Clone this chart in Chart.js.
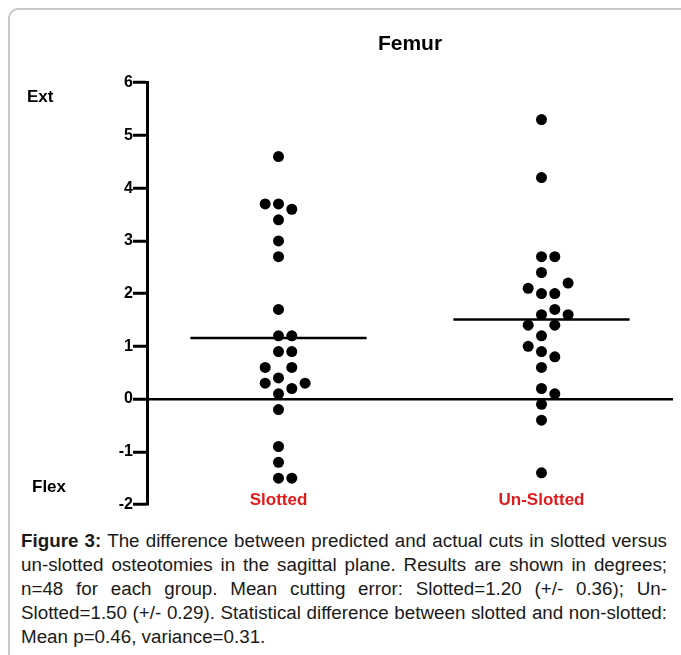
<!DOCTYPE html>
<html><head><meta charset="utf-8">
<script src="https://cdn.jsdelivr.net/npm/chart.js@4/dist/chart.umd.min.js"></script>
<style>
html,body{margin:0;padding:0;background:#fff;}
body{width:681px;height:655px;overflow:hidden;position:relative;font-family:"Liberation Sans",Arial,sans-serif;}
#frame{position:absolute;left:8px;top:8px;width:720px;height:720px;border:2px solid #c8c8c8;border-radius:10px;box-sizing:border-box;}
#wrap{position:absolute;left:0;top:0;width:681px;height:525px;}
#caption{position:absolute;left:21px;top:529px;width:646px;font-size:18.8px;line-height:24px;text-align:justify;color:#1a1a1a;}
</style></head>
<body>
<div id="frame"></div>
<div id="wrap"><canvas id="c" width="681" height="525"></canvas></div>
<div id="caption"><b>Figure 3:</b> The difference between predicted and actual cuts in slotted versus un-slotted osteotomies in the sagittal plane. Results are shown in degrees; n=48 for each group. Mean cutting error: Slotted=1.20 (+/- 0.36); Un-Slotted=1.50 (+/- 0.29). Statistical difference between slotted and non-slotted: Mean p=0.46, variance=0.31.</div>
<script>
const chartTitle = 'Femur';
const categories = ['Slotted', 'Un-Slotted'];
const slottedValues = [4.6, 3.7, 3.7, 3.6, 3.4, 3.0, 2.7, 1.7, 1.2, 1.2, 0.9, 0.9, 0.6, 0.6, 0.4, 0.3, 0.3, 0.2, 0.1, -0.2, -0.9, -1.2, -1.5, -1.5];
const unSlottedValues = [5.3, 4.2, 2.7, 2.7, 2.4, 2.2, 2.1, 2.0, 2.0, 1.7, 1.6, 1.6, 1.4, 1.4, 1.2, 1.0, 0.9, 0.8, 0.6, 0.2, 0.1, -0.1, -0.4, -1.4];
const groupMeans = [1.16, 1.51];
const yTickValues = [-2, -1, 0, 1, 2, 3, 4, 5, 6];
const sideLabels = ['Ext', 'Flex'];

const FONT = '"Liberation Sans", Arial, sans-serif';
const LANE_STEP = 0.0506;   // horizontal spacing between swarm lanes (x units)
const DOT_GAP = 0.25;       // minimum vertical separation inside a lane (y units)
const MEAN_HALF = 0.335;    // half width of the mean bar (x units)

function swarm(values, center) {
  const order = values.map((v, i) => i).sort((a, b) => values[a] - values[b]);
  const lanes = {};
  const out = [];
  const candidates = [0, 1, -1, 2, -2, 3, -3];
  for (const i of order) {
    const v = values[i];
    for (const k of candidates) {
      const placed = lanes[k] || (lanes[k] = []);
      if (placed.every(p => Math.abs(p - v) > DOT_GAP)) {
        placed.push(v);
        out.push({x: center + k * LANE_STEP, y: v});
        break;
      }
    }
  }
  return out;
}

const groups = [slottedValues, unSlottedValues];
const datasets = [];
groups.forEach((vals, g) => {
  const c = g + 1;
  datasets.push({
    type: 'line', data: [{x: c - MEAN_HALF, y: groupMeans[g]}, {x: c + MEAN_HALF, y: groupMeans[g]}],
    borderColor: '#000', borderWidth: 2.5, pointRadius: 0, fill: false
  });
  datasets.push({
    type: 'scatter', data: swarm(vals, c),
    backgroundColor: '#000', borderColor: '#000', borderWidth: 0, pointRadius: 5.5, pointHoverRadius: 5.5
  });
});

const labelPlugin = {
  id: 'extraLabels',
  afterDraw(chart) {
    const ctx = chart.ctx;
    const xs = chart.scales.x;
    ctx.save();
    ctx.textBaseline = 'middle';
    ctx.font = 'bold 17px ' + FONT;
    ctx.fillStyle = '#000';
    ctx.textAlign = 'left';
    ctx.fillText(sideLabels[0], 27, 97);
    ctx.fillText(sideLabels[1], 32, 487);
    ctx.fillStyle = '#e01b1b';
    ctx.textAlign = 'center';
    categories.forEach((c, i) => ctx.fillText(c, xs.getPixelForValue(i + 1), 500));
    ctx.restore();
  }
};

new Chart(document.getElementById('c'), {
  type: 'scatter',
  data: {datasets},
  plugins: [labelPlugin],
  options: {
    responsive: false,
    animation: false,
    clip: false,
    layout: {padding: {top: 20, left: 107, right: 8, bottom: 0}},
    plugins: {
      legend: {display: false},
      tooltip: {enabled: false},
      title: {
        display: true, text: chartTitle, fullSize: false, color: '#000',
        font: {family: FONT, size: 21, weight: 'bold'},
        padding: {top: 12, bottom: 25.5}
      }
    },
    scales: {
      x: {
        type: 'linear', min: 0.5, max: 2.5,
        afterFit: s => { s.height = 20.5; },
        grid: {display: false, drawTicks: false},
        border: {display: false},
        ticks: {display: false}
      },
      y: {
        min: -2, max: 6,
        afterBuildTicks: s => { s.ticks = yTickValues.map(v => ({value: v})); },
        afterFit: s => { s.width = 40; },
        grid: {
          drawOnChartArea: true,
          color: ctx => (ctx.tick && ctx.tick.value === 0) ? '#000' : 'rgba(0,0,0,0)',
          lineWidth: 2.5, tickColor: '#000', tickWidth: 3, tickLength: 14
        },
        border: {display: true, color: '#000', width: 3},
        ticks: {color: '#000', padding: 0, font: {family: FONT, size: 16, weight: 'bold'}, callback: v => String(v)}
      }
    }
  }
});
</script>
</body></html>
